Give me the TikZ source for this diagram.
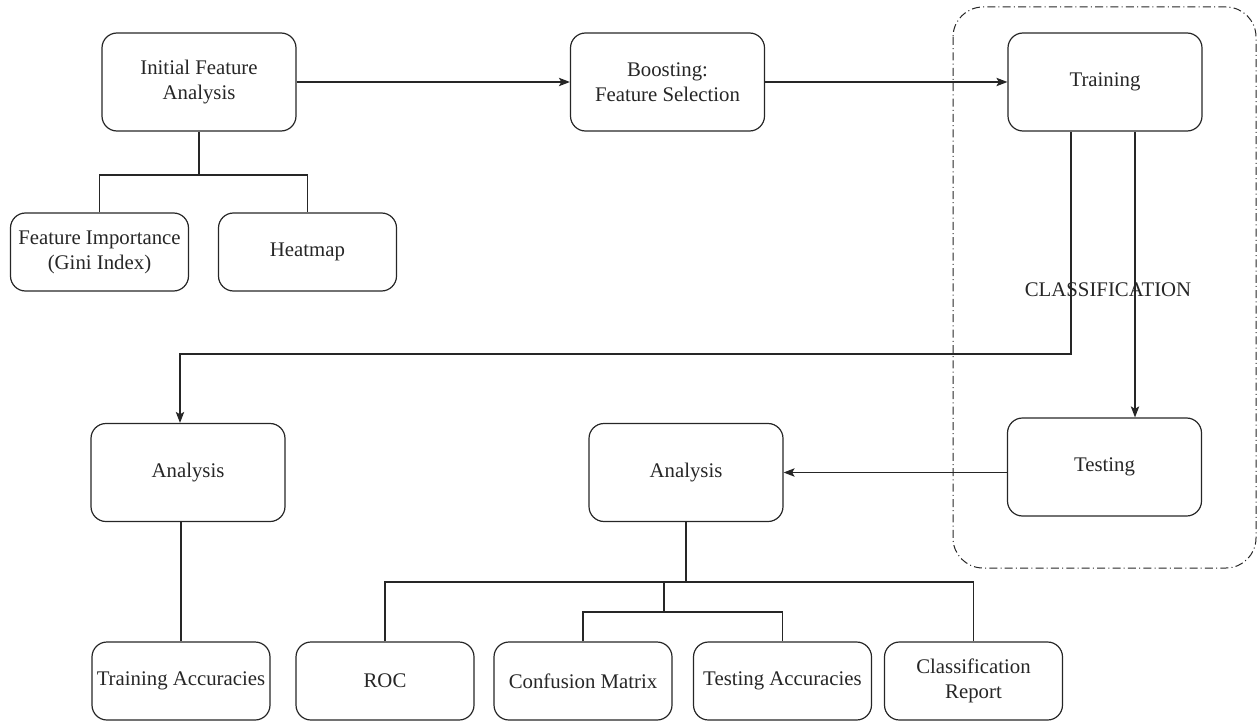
\documentclass[tikz,border=0pt]{standalone}
\usepackage{fontspec}
\setmainfont{Liberation Serif}
\usetikzlibrary{arrows.meta,calc}

\begin{document}
\begin{tikzpicture}[x=0.5pt, y=-0.5pt, color=black!85, line width=0.6pt,
    box/.style={draw, rounded corners=7.5pt, align=center, inner sep=1pt,
      minimum width=97pt, minimum height=49pt,
      font=\fontsize{10.4}{12.5}\selectfont},
    leaf/.style={box, minimum width=89pt, minimum height=39pt},
    arr/.style={-{Stealth[length=5.5pt, width=4.2pt, inset=1.2pt]}}]
  \useasboundingbox (0,0) rectangle (1258,722);

  % classification group
  \draw[line width=0.5pt, rounded corners=15pt,
        dash pattern=on 4pt off 1.6pt on 0.5pt off 1.6pt] (953,7) rectangle (1256,568);

  \node[box] (ifa) at (199,82) {Initial Feature\\Analysis};
  \node[box] (boost) at (667.5,82) {Boosting:\\Feature Selection};
  \node[box] (train) at (1105,82) {Training};
  \node[leaf] (gini) at (99.5,252) {Feature Importance\\(Gini Index)};
  \node[leaf] (heat) at (307.5,252) {Heatmap};
  \node[box] (an1) at (188,472.5) {Analysis};
  \node[box] (an2) at (686,472.5) {Analysis};
  \node[box] (test) at (1104.5,467) {Testing};
  \node[leaf] (tacc) at (181,681) {Training Accuracies};
  \node[leaf] (roc) at (385,681) {ROC};
  \node[leaf] (conf) at (583,681) {Confusion Matrix};
  \node[leaf] (teacc) at (782.5,681) {Testing Accuracies};
  \node[leaf] (crep) at (973.5,681) {Classification\\Report};
  \node[font=\fontsize{10.4}{12.5}\selectfont] (cls) at (1108,290) {CLASSIFICATION};

  \coordinate (j1) at (199,175);
  \coordinate (bend) at (180,354);
  \coordinate (j2) at (686,582);
  \coordinate (j3) at (664,582);
  \coordinate (j4) at (664,612);

  \draw[arr] (ifa) -- (boost);
  \draw[arr] (boost) -- (train);
  \draw (ifa.south) -- (j1);
  \draw (gini.north) |- (j1) -| (heat.north);
  \draw[arr] ($(train.south)+(-34,0)$) |- (bend) -- (bend |- an1.north);
  \draw[arr] ($(train.south)+(30,0)$) -- ($(test.north)+(30.5,0)$);
  \draw[arr] (test.west |- an2.east) -- (an2.east);
  \draw (an1.south -| tacc.north) -- (tacc.north);
  \draw (an2.south) -- (j2);
  \draw (roc.north) |- (j2) -| (crep.north);
  \draw (j3) -- (j4);
  \draw (conf.north) |- (j4) -| (teacc.north);
\end{tikzpicture}
\end{document}
